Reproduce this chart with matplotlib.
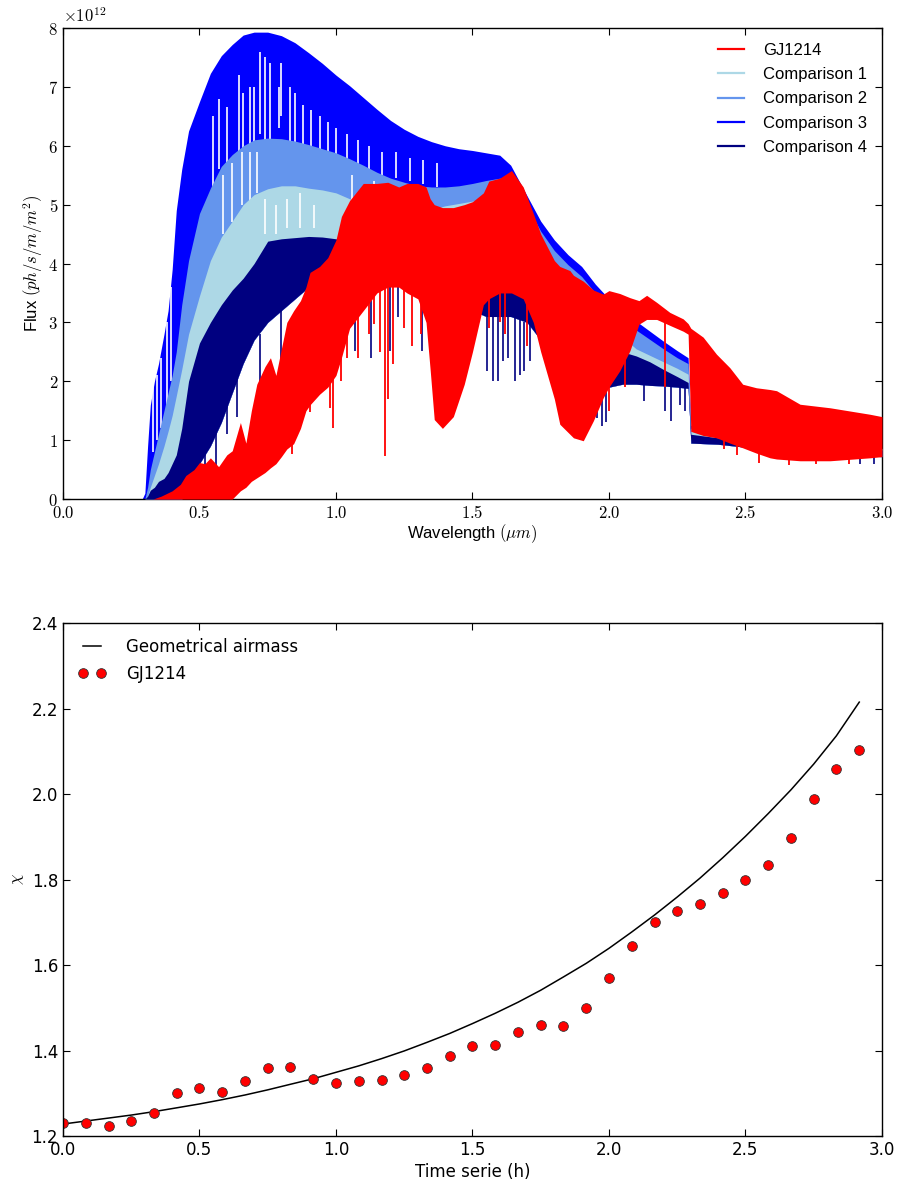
import matplotlib
matplotlib.use("Agg")
import matplotlib.pyplot as plt
from matplotlib.lines import Line2D
from matplotlib.ticker import FuncFormatter, MultipleLocator

plt.rcParams["mathtext.fontset"] = "cm"

# ---------------- spectra (flux in units of 1e12 ph/s/m/m^2) ----------------
comp_wave = [0.29, 0.30, 0.31, 0.32, 0.335, 0.35, 0.37, 0.385, 0.40, 0.415,
             0.435, 0.46, 0.50, 0.54, 0.58, 0.62, 0.66, 0.70, 0.75, 0.80,
             0.85, 0.90, 0.95, 1.00, 1.05, 1.10, 1.15, 1.20, 1.25, 1.30,
             1.35, 1.40, 1.45, 1.50, 1.55, 1.60, 1.64, 1.70, 1.75, 1.80,
             1.85, 1.90, 1.95, 2.00, 2.05, 2.10, 2.15, 2.20, 2.25, 2.29,
             2.30, 2.40, 2.50, 2.60, 2.70, 2.80, 2.90, 3.00]

comp3_top = [0.0, 0.1, 0.9, 1.6, 2.0, 2.3, 2.8, 3.2, 3.9, 4.9,
             5.6, 6.25, 6.75, 7.23, 7.53, 7.72, 7.88, 7.93, 7.93, 7.87,
             7.75, 7.58, 7.40, 7.20, 7.02, 6.82, 6.62, 6.43, 6.28, 6.16,
             6.07, 6.00, 5.95, 5.92, 5.88, 5.84, 5.67, 5.15, 4.72, 4.40,
             4.15, 3.95, 3.65, 3.40, 3.20, 3.02, 2.85, 2.68, 2.52, 2.40,
             1.25, 1.15, 1.08, 1.03, 1.00, 0.97, 0.95, 0.93]

comp2_top = [0.0, 0.0, 0.2, 0.5, 0.8, 1.1, 1.5, 1.8, 2.1, 2.5,
             3.3, 4.05, 4.85, 5.28, 5.65, 5.85, 6.00, 6.10, 6.13, 6.12,
             6.08, 6.02, 5.95, 5.88, 5.78, 5.67, 5.55, 5.45, 5.38, 5.32,
             5.30, 5.30, 5.32, 5.36, 5.41, 5.45, 5.45, 4.98, 4.55, 4.22,
             3.98, 3.78, 3.50, 3.25, 3.05, 2.87, 2.71, 2.55, 2.40, 2.30,
             1.20, 1.10, 1.03, 0.98, 0.95, 0.92, 0.90, 0.88]

comp1_top = [0.0, 0.0, 0.05, 0.2, 0.4, 0.6, 0.9, 1.15, 1.42, 1.75,
             2.2, 2.8, 3.45, 4.05, 4.45, 4.72, 5.00, 5.17, 5.27, 5.32,
             5.32, 5.28, 5.25, 5.20, 5.10, 5.02, 4.96, 4.92, 4.90, 4.90,
             4.92, 4.98, 5.02, 5.06, 5.10, 5.12, 5.10, 4.60, 4.20, 3.90,
             3.65, 3.45, 3.20, 2.98, 2.75, 2.55, 2.44, 2.33, 2.22, 2.12,
             1.15, 1.07, 1.00, 0.95, 0.92, 0.90, 0.88, 0.86]

comp4_top = [0.0, 0.0, 0.05, 0.15, 0.2, 0.3, 0.35, 0.45, 0.6, 0.75,
             1.2, 2.0, 2.65, 3.0, 3.3, 3.55, 3.75, 4.0, 4.38, 4.42,
             4.44, 4.46, 4.45, 4.42, 4.38, 4.32, 4.27, 4.23, 4.20, 4.17,
             4.20, 4.25, 4.30, 4.35, 4.40, 4.45, 4.45, 4.00, 3.65, 3.40,
             3.17, 3.00, 2.80, 2.63, 2.50, 2.43, 2.33, 2.20, 2.08, 1.98,
             1.10, 1.04, 0.98, 0.93, 0.90, 0.87, 0.85, 0.83]

comp_floor = [0.0, 0.0, 0.0, 0.0, 0.0, 0.0, 0.0, 0.0, 0.0, 0.0,
              0.0, 0.2, 0.6, 0.9, 1.3, 1.8, 2.3, 2.7, 3.0, 3.2,
              3.4, 3.6, 3.75, 3.85, 3.9, 3.9, 3.9, 3.9, 3.85, 3.8,
              3.4, 3.4, 3.3, 3.2, 3.1, 3.1, 3.1, 3.0, 2.7, 2.4,
              2.2, 2.0, 1.9, 1.9, 1.95, 1.95, 1.93, 1.92, 1.9, 1.88,
              0.95, 0.93, 0.88, 0.82, 0.78, 0.76, 0.74, 0.72]

gj_wave = [0.33, 0.36, 0.40, 0.43, 0.45, 0.48, 0.50, 0.52, 0.54, 0.57,
           0.60, 0.62, 0.65, 0.67, 0.69, 0.71, 0.74, 0.76, 0.78, 0.80,
           0.82, 0.845, 0.87, 0.89, 0.905, 0.94, 0.97, 1.00, 1.02, 1.05,
           1.10, 1.15, 1.19, 1.23, 1.26, 1.30, 1.33, 1.345, 1.36, 1.39,
           1.43, 1.47, 1.50, 1.54, 1.56, 1.60, 1.643, 1.686, 1.723, 1.75,
           1.80, 1.82, 1.857, 1.87, 1.906, 1.943, 1.979, 2.00, 2.04, 2.077,
           2.11, 2.138, 2.175, 2.223, 2.272, 2.29, 2.30, 2.345, 2.394, 2.443,
           2.49, 2.54, 2.59, 2.614, 2.70, 2.81, 2.956, 3.00]

gj_top = [0.0, 0.05, 0.14, 0.25, 0.40, 0.50, 0.62, 0.60, 0.70, 0.55,
          0.75, 0.82, 1.30, 0.95, 1.50, 1.95, 2.25, 2.40, 2.10, 2.55,
          3.00, 3.20, 3.37, 3.60, 3.85, 3.95, 4.10, 4.40, 4.80, 5.07,
          5.36, 5.36, 5.38, 5.30, 5.36, 5.36, 5.30, 5.10, 5.00, 4.95,
          4.95, 5.00, 5.05, 5.20, 5.40, 5.45, 5.58, 5.30, 4.85, 4.50,
          4.05, 3.95, 3.88, 3.80, 3.70, 3.55, 3.48, 3.54, 3.49, 3.42,
          3.37, 3.46, 3.34, 3.17, 3.06, 2.98, 2.90, 2.75, 2.46, 2.23,
          1.95, 1.89, 1.86, 1.84, 1.61, 1.55, 1.44, 1.40]

gj_floor = [0.0, 0.0, 0.0, 0.0, 0.0, 0.0, 0.0, 0.0, 0.0, 0.0,
            0.0, 0.0, 0.14, 0.2, 0.3, 0.36, 0.45, 0.53, 0.6, 0.72,
            0.85, 0.94, 1.2, 1.5, 1.6, 1.78, 1.9, 2.1, 2.4, 2.9,
            3.2, 3.5, 3.6, 3.6, 3.5, 3.4, 3.0, 2.2, 1.35, 1.2,
            1.4, 1.95, 2.5, 3.3, 3.4, 3.5, 3.5, 3.4, 3.0, 2.5,
            1.7, 1.27, 1.1, 1.04, 0.99, 1.33, 1.72, 1.9, 2.18, 2.52,
            2.97, 3.05, 3.05, 2.95, 2.85, 2.80, 1.15, 1.08, 1.04, 0.95,
            0.87, 0.78, 0.70, 0.68, 0.65, 0.65, 0.70, 0.72]

# narrow features: (wavelength, bottom, top)
comp3_gaps = [(0.33, 0.8, 1.9), (0.345, 1.0, 2.1), (0.36, 1.2, 2.4),
              (0.38, 1.5, 3.0), (0.395, 2.0, 3.6), (0.55, 5.3, 6.5),
              (0.57, 5.6, 6.8), (0.60, 5.5, 6.65), (0.645, 5.9, 7.2),
              (0.66, 5.8, 6.9), (0.685, 5.6, 7.0), (0.70, 6.0, 7.0),
              (0.72, 6.2, 7.6), (0.74, 6.0, 7.5), (0.76, 5.5, 7.4),
              (0.79, 6.3, 7.0), (0.80, 6.5, 7.4), (0.83, 6.0, 7.0),
              (0.85, 6.0, 6.9), (0.88, 6.0, 6.7), (0.91, 5.9, 6.6),
              (0.94, 5.9, 6.5), (0.97, 5.85, 6.4), (1.00, 5.8, 6.3),
              (1.04, 5.7, 6.2), (1.08, 5.6, 6.1), (1.12, 5.6, 6.0),
              (1.17, 5.5, 5.9), (1.22, 5.45, 5.9), (1.27, 5.4, 5.8),
              (1.32, 5.35, 5.75), (1.37, 5.3, 5.7)]
comp2_gaps = [(0.585, 4.5, 5.5), (0.62, 4.7, 5.7), (0.655, 5.0, 5.9),
              (0.685, 4.9, 5.9), (0.71, 5.2, 5.9), (1.06, 5.0, 5.5),
              (1.14, 4.9, 5.4)]
comp1_gaps = [(0.74, 4.5, 5.1), (0.78, 4.5, 5.0), (0.82, 4.6, 5.1),
              (0.87, 4.6, 5.2), (0.92, 4.6, 5.0)]
comp4_lines = [(0.49, 0.2, 0.9), (0.52, 0.3, 1.0), (0.56, 0.5, 1.2),
               (0.60, 1.1, 2.0), (0.636, 1.4, 2.4), (0.72, 1.72, 2.8),
               (0.80, 2.1, 3.2), (0.917, 2.58, 3.6), (1.063, 2.97, 3.9),
               (1.07, 2.52, 3.9), (1.13, 2.40, 3.9), (1.198, 2.52, 3.9),
               (1.228, 3.09, 3.9), (1.314, 2.52, 3.8), (1.552, 2.18, 3.1),
               (1.576, 2.0, 3.1), (1.595, 2.0, 3.1), (1.613, 2.35, 3.1),
               (1.63, 2.4, 3.1), (1.655, 2.0, 3.1), (1.674, 2.1, 3.1),
               (1.69, 2.18, 3.0), (1.71, 2.35, 3.0), (1.955, 1.38, 1.9),
               (1.975, 1.24, 1.9), (1.99, 1.3, 1.9), (2.13, 1.67, 1.93),
               (2.205, 1.5, 1.92), (2.229, 1.33, 1.92), (2.26, 1.6, 1.9),
               (2.28, 1.5, 1.88), (2.92, 0.59, 0.75), (2.97, 0.6, 0.73)]
gj_lines = [(0.84, 0.76, 1.0), (0.905, 1.47, 1.7), (0.978, 1.55, 2.0),
            (0.99, 1.2, 2.1), (1.02, 2.0, 3.0), (1.04, 2.4, 3.2),
            (1.082, 2.40, 3.3), (1.12, 2.8, 3.6), (1.14, 2.97, 3.6),
            (1.16, 2.5, 3.6), (1.179, 0.73, 3.7), (1.19, 1.70, 3.7),
            (1.21, 2.3, 3.7), (1.25, 2.9, 3.6), (1.28, 2.6, 3.5),
            (1.31, 2.8, 3.4), (1.56, 2.9, 3.5), (1.60, 3.0, 3.6),
            (1.62, 2.8, 3.6), (1.70, 2.6, 3.3), (2.00, 1.5, 2.0),
            (2.06, 1.9, 2.4), (2.205, 1.9, 3.2), (2.42, 0.85, 1.1),
            (2.47, 0.75, 1.0), (2.55, 0.62, 0.85), (2.66, 0.58, 0.75),
            (2.76, 0.6, 0.75), (2.88, 0.6, 0.8)]

# ---------------- airmass ----------------
time_h = [0.0, 0.083, 0.167, 0.25, 0.333, 0.417, 0.5, 0.583, 0.667, 0.75,
          0.833, 0.917, 1.0, 1.083, 1.167, 1.25, 1.333, 1.417, 1.5, 1.583,
          1.667, 1.75, 1.833, 1.917, 2.0, 2.083, 2.167, 2.25, 2.333, 2.417,
          2.5, 2.583, 2.667, 2.75, 2.833, 2.917]
geo_airmass = [1.228, 1.235, 1.242, 1.249, 1.257, 1.266, 1.275, 1.285, 1.296,
               1.308, 1.321, 1.334, 1.349, 1.364, 1.381, 1.399, 1.419, 1.440,
               1.463, 1.487, 1.513, 1.541, 1.572, 1.604, 1.639, 1.677, 1.717,
               1.759, 1.803, 1.851, 1.901, 1.954, 2.010, 2.070, 2.136, 2.215]
gj_airmass = [1.230, 1.230, 1.223, 1.236, 1.254, 1.301, 1.312, 1.303, 1.329,
              1.358, 1.361, 1.334, 1.325, 1.329, 1.332, 1.342, 1.358, 1.388,
              1.411, 1.414, 1.443, 1.460, 1.458, 1.499, 1.570, 1.645, 1.701,
              1.727, 1.742, 1.769, 1.800, 1.835, 1.898, 1.988, 2.058, 2.102]

series = [
    ("Comparison 3", "blue", comp3_top, comp3_gaps, "white"),
    ("Comparison 2", "cornflowerblue", comp2_top, comp2_gaps, "white"),
    ("Comparison 1", "lightblue", comp1_top, comp1_gaps, "white"),
    ("Comparison 4", "navy", comp4_top, comp4_lines, "navy"),
]

fig = plt.figure(figsize=(8.97, 11.82), dpi=100)

# ---- top panel: spectra ----
ax = fig.add_axes([0.0702, 0.5778, 0.9130, 0.3985])
z = 1
for name, color, top, lines, lcolor in series:
    ax.fill_between(comp_wave, comp_floor, top, color=color, lw=0, zorder=z)
    ax.vlines([l[0] for l in lines], [l[1] for l in lines], [l[2] for l in lines],
              color=lcolor, lw=1.2, zorder=z + 0.5)
    z += 1
ax.fill_between(gj_wave, gj_floor, gj_top, color="red", lw=0, zorder=z)
ax.vlines([l[0] for l in gj_lines], [l[1] for l in gj_lines], [l[2] for l in gj_lines],
          color="red", lw=1.3, zorder=z + 0.5)

ax.set_xlim(0, 3)
ax.set_ylim(0, 8)
ax.xaxis.set_major_locator(MultipleLocator(0.5))
ax.yaxis.set_major_locator(MultipleLocator(1))
ax.xaxis.set_major_formatter(FuncFormatter(lambda v, p: "$%.1f$" % v))
ax.yaxis.set_major_formatter(FuncFormatter(lambda v, p: "$%d$" % v))
ax.tick_params(direction="in", top=True, right=True, length=5, width=0.8,
               labelsize=12)
ax.text(0.0, 1.004, r"$\times10^{12}$", transform=ax.transAxes,
        ha="left", va="bottom", fontsize=12)
ax.set_xlabel(r"Wavelength $(\mu m)$", family="Liberation Sans", fontsize=12,
              labelpad=0)
ax.set_ylabel(r"Flux $(ph/s/m/m^2)$", family="Liberation Sans", fontsize=12,
              labelpad=2)

handles = [Line2D([], [], color="red", lw=1.6),
           Line2D([], [], color="lightblue", lw=1.6),
           Line2D([], [], color="cornflowerblue", lw=1.6),
           Line2D([], [], color="blue", lw=1.6),
           Line2D([], [], color="navy", lw=1.6)]
labels = ["GJ1214", "Comparison 1", "Comparison 2", "Comparison 3", "Comparison 4"]
ax.legend(handles, labels, loc="upper right", frameon=False,
          prop={"family": "Liberation Sans", "size": 12},
          handlelength=1.6, handletextpad=1.1, labelspacing=0.55)

# ---- bottom panel: airmass ----
ax2 = fig.add_axes([0.0702, 0.0389, 0.9130, 0.4340])
ax2.plot(time_h, geo_airmass, color="black", lw=1.1, label="Geometrical airmass")
ax2.plot(time_h, gj_airmass, "o", color="red", mec="#333333", mew=0.6, ms=7,
         label="GJ1214")
ax2.set_xlim(0, 3)
ax2.set_ylim(1.2, 2.4)
ax2.xaxis.set_major_locator(MultipleLocator(0.5))
ax2.yaxis.set_major_locator(MultipleLocator(0.2))
ax2.tick_params(direction="in", top=True, right=True, length=5, width=0.8,
                labelsize=12)
ax2.set_xlabel("Time serie (h)", fontsize=12, labelpad=3)
ax2.set_ylabel(r"$\chi$", fontsize=12, labelpad=4)
ax2.legend(loc="upper left", frameon=False, numpoints=2, fontsize=12,
           handlelength=1.7, handletextpad=1.2, labelspacing=0.55)

for a in (ax, ax2):
    for s in a.spines.values():
        s.set_linewidth(1.0)

fig.savefig("out.png", dpi=100)
